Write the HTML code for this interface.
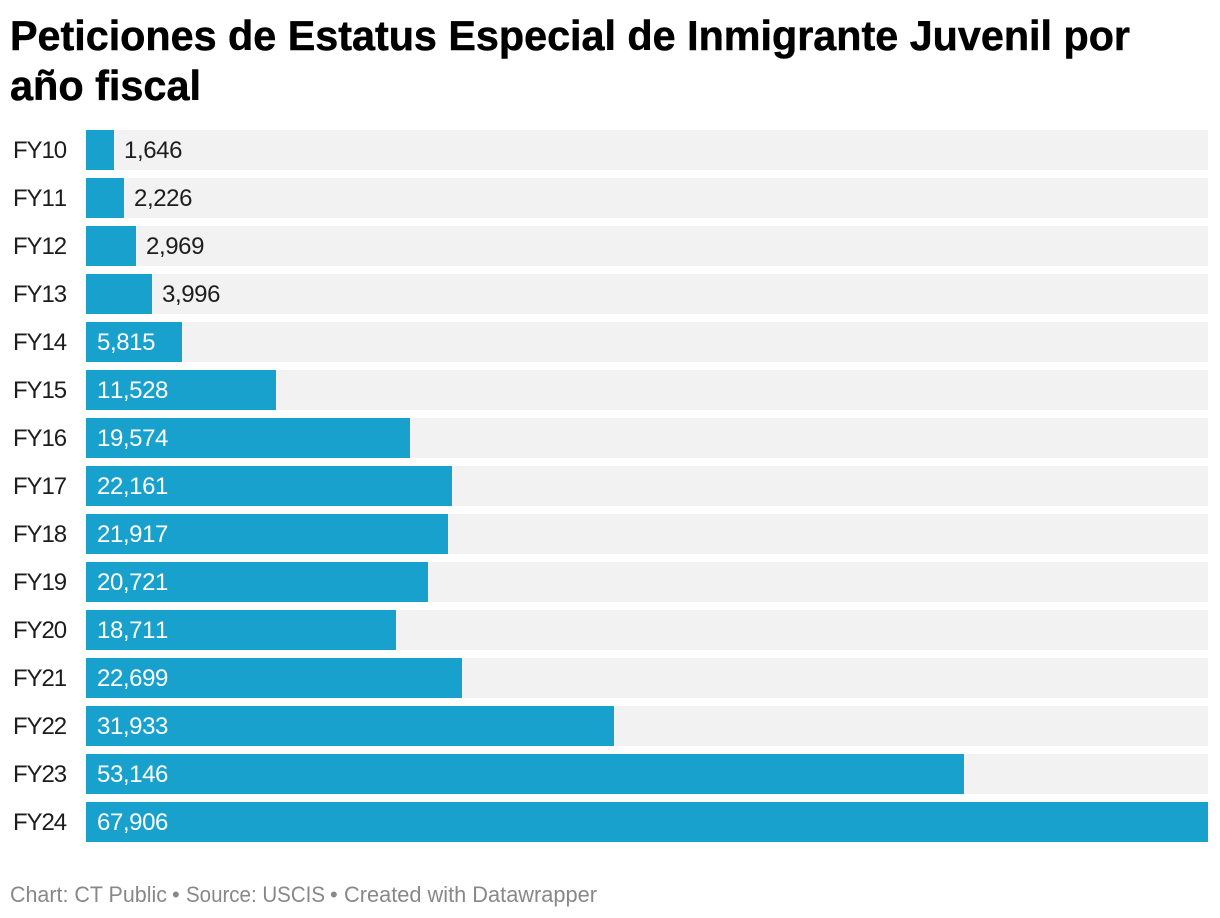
<!DOCTYPE html>
<html lang="es">
<head>
<meta charset="utf-8">
<title>Peticiones de Estatus Especial de Inmigrante Juvenil por año fiscal</title>
<style>
html,body{margin:0;padding:0;background:#fff;width:1220px;height:918px;overflow:hidden}
svg{display:block;font-family:"Liberation Sans",sans-serif}
#rows text{font-kerning:none}
</style>
</head>
<body>
<svg id="chart" width="1220" height="918" viewBox="0 0 1220 918" xmlns="http://www.w3.org/2000/svg">
  <text x="10" y="50" font-size="42" font-weight="700" fill="#000" stroke="#000" stroke-width="0.5" textLength="1120" lengthAdjust="spacingAndGlyphs">Peticiones de Estatus Especial de Inmigrante Juvenil por</text>
  <text x="10" y="100" font-size="42" font-weight="700" fill="#000" stroke="#000" stroke-width="0.5" textLength="191" lengthAdjust="spacingAndGlyphs">año fiscal</text>
  <g id="rows"></g>
  <g font-size="22" fill="#888888">
    <text x="10" y="902" textLength="157" lengthAdjust="spacingAndGlyphs">Chart: CT Public</text>
    <text x="172" y="902">•</text>
    <text x="186" y="902" textLength="139" lengthAdjust="spacingAndGlyphs">Source: USCIS</text>
    <text x="330" y="902">•</text>
    <text x="344" y="902" textLength="253" lengthAdjust="spacingAndGlyphs">Created with Datawrapper</text>
  </g>
</svg>
<script>
const categories = ['FY10','FY11','FY12','FY13','FY14','FY15','FY16','FY17','FY18','FY19','FY20','FY21','FY22','FY23','FY24'];
const petitions = [1646,2226,2969,3996,5815,11528,19574,22161,21917,20721,18711,22699,31933,53146,67906];

const SVG_NS = 'http://www.w3.org/2000/svg';
const rowsGroup = document.getElementById('rows');
const plotLeft = 86, plotWidth = 1122, plotTop = 130, barHeight = 40, rowStep = 48;
const maxValue = Math.max.apply(null, petitions);
// Bars snap to the 2px device grid, as in a 2x-scaled render.
const xScale = function (v) { return Math.round(v / maxValue * plotWidth / 2 + 0.12) * 2; };
const yScale = function (i) { return plotTop + i * rowStep; };
const formatValue = function (v) { return v.toLocaleString('en-US'); };

function make(tag, attrs, text) {
  const el = document.createElementNS(SVG_NS, tag);
  Object.keys(attrs).forEach(function (k) { el.setAttribute(k, attrs[k]); });
  if (text !== undefined) el.textContent = text;
  rowsGroup.appendChild(el);
  return el;
}

categories.forEach(function (cat, i) {
  const value = petitions[i];
  const y = yScale(i);
  const w = xScale(value);
  const key = cat.toLowerCase();

  const label = make('text', {x: 13, y: y + 28, 'font-size': 24, fill: '#1d1d1d', 'letter-spacing': '-1.1'}, cat);
  
  

  const track = make('rect', {x: plotLeft, y: y, width: plotWidth, height: barHeight, fill: '#f2f2f2', 'shape-rendering': 'crispEdges'});
  
  

  const bar = make('rect', {x: plotLeft, y: y, width: w, height: barHeight, fill: '#18a1cd', 'shape-rendering': 'crispEdges'});
  
  

  const inside = w > 80;
  const val = make('text', {
    x: inside ? plotLeft + 11 : plotLeft + w + 10,
    y: y + 28,
    'font-size': 24,
    fill: inside ? '#ffffff' : '#1d1d1d',
    'letter-spacing': '-0.4'
  }, formatValue(value));
  
  
});
</script>
</body>
</html>
